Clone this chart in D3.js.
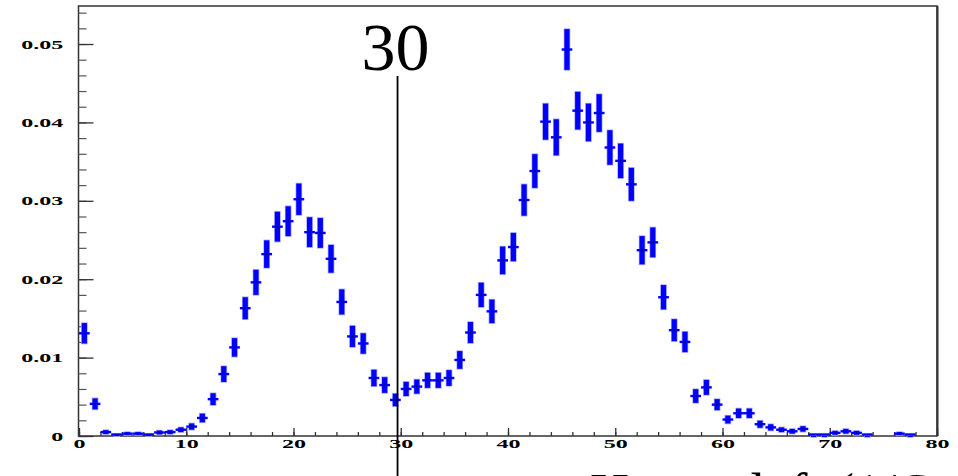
<!DOCTYPE html>
<html>
<head>
<meta charset="utf-8">
<script src="https://d3js.org/d3.v7.min.js"></script>
<style>
  body { margin: 0; background: #fff; }
  svg { display: block; }
</style>
</head>
<body>
<svg width="958" height="476"></svg>
<script>
// histogram bins 0..79, content per bin (null = empty bin, not drawn)
var binValues = [
  0.0131, 0.0041, 0.0005, 0.0001, 0.0003, 0.0003, 0.0001, 0.00045, 0.0005, 0.0008,
  0.0012, 0.0023, 0.0047, 0.0079, 0.0113, 0.0163, 0.0196, 0.0232, 0.0267, 0.0274,
  0.0302, 0.0260, 0.0259, 0.0226, 0.0171, 0.0127, 0.0118, 0.0074, 0.0065, 0.0046,
  0.0060, 0.0063, 0.0071, 0.0071, 0.0074, 0.0097, 0.0132, 0.0180, 0.0159, 0.0224,
  0.0241, 0.0301, 0.0338, 0.0401, 0.0381, 0.0493, 0.0415, 0.0400, 0.0412, 0.0368,
  0.0351, 0.0321, 0.0237, 0.0247, 0.0177, 0.0135, 0.0120, 0.0051, 0.0062, 0.0040,
  0.0021, 0.0029, 0.0029, 0.0015, 0.0011, 0.0008, 0.0006, 0.0009, 0, 0,
  0.0004, 0.0006, 0.0004, 0, null, null, 0.0003, 0, null, null
];

// error per bin
var binErrors = [
  0.0013, 0.0007, 0.00025, 0.0001, 0.0002, 0.0002, 0.0001, 0.00025, 0.00025, 0.0003,
  0.0004, 0.00055, 0.00075, 0.001, 0.00118, 0.0014, 0.0016, 0.00175, 0.0019, 0.0019,
  0.002, 0.0019, 0.0019, 0.00177, 0.0016, 0.00135, 0.0013, 0.00105, 0.001, 0.0008,
  0.0009, 0.0009, 0.00096, 0.00096, 0.001, 0.00113, 0.00134, 0.00155, 0.0015, 0.00176,
  0.0018, 0.002, 0.00215, 0.0023, 0.0023, 0.0026, 0.0024, 0.0024, 0.0024, 0.0022,
  0.0022, 0.0021, 0.0018, 0.0019, 0.00155, 0.0014, 0.0013, 0.00087, 0.00095, 0.0007,
  0.0005, 0.0006, 0.0006, 0.00045, 0.0004, 0.0003, 0.0003, 0.00035, 0, 0,
  0.00025, 0.0003, 0.00025, 0, null, null, 0.0002, 0, null, null
];

var xMajorTicks = [0, 10, 20, 30, 40, 50, 60, 70, 80];
var yMajorTicks = [0, 0.01, 0.02, 0.03, 0.04, 0.05];
var cutValue = 29.7;     // where the cut line sits on the axis
var cutLabel = "30";
var xTitle = "Hmass left (1/GeV)";

var svg = d3.select("svg");

var x = d3.scaleLinear().domain([0, 80]).range([79, 937]);
var y = d3.scaleLinear().domain([0, 0.05485]).range([436, 6]);

// build bin objects
var bins = binValues.map(function(v, i) {
  return {lo: i, hi: i + 1, c: i + 0.5, v: v, e: binErrors[i]};
}).filter(function(d) { return d.v !== null; });

// frame
svg.append("rect")
  .attr("x", x(0) - 0.5)
  .attr("y", y.range()[1])
  .attr("width", x(80) - x(0) + 0.5)
  .attr("height", y(0) - y.range()[1])
  .attr("fill", "none")
  .attr("stroke", "#333")
  .attr("stroke-width", 1.5);

svg.append("line")
  .attr("x1", x(80) + 0.5).attr("x2", x(80) + 0.5)
  .attr("y1", y.range()[1]).attr("y2", y(0))
  .attr("stroke", "#333").attr("stroke-width", 2);

var labelScale = "scale(1.85,1)";

// y axis, minor then major
var yMinor = d3.range(0, 0.0549, 0.002);
svg.append("g")
  .attr("transform", "translate(" + (x(0) - 0.5) + ",0)")
  .call(d3.axisLeft(y).tickValues(yMinor).tickSize(-8).tickFormat(""))
  .call(function(g) { g.select(".domain").remove(); })
  .selectAll("line").attr("stroke", "#555").attr("stroke-width", 1.2);

var yAxis = svg.append("g")
  .attr("transform", "translate(" + (x(0) - 0.5) + ",0)")
  .call(d3.axisLeft(y).tickValues(yMajorTicks).tickSize(-15).tickPadding(8.2)
    .tickFormat(function(d) { return d === 0 ? "0" : d3.format(".2f")(d); }));
yAxis.select(".domain").remove();
yAxis.selectAll("line").attr("stroke", "#333").attr("stroke-width", 1.3);
yAxis.selectAll("text")
  .attr("transform", labelScale)
  .style("font-family", "'Liberation Serif', 'Times New Roman', serif")
  .style("font-weight", "bold")
  .style("font-size", "13px")
  .attr("fill", "#000");

// x axis
var xMinor = d3.range(0, 81, 2);
svg.append("g")
  .attr("transform", "translate(0," + y(0) + ")")
  .call(d3.axisBottom(x).tickValues(xMinor).tickSize(-4).tickFormat(""))
  .call(function(g) { g.select(".domain").remove(); })
  .selectAll("line").attr("stroke", "#333").attr("stroke-width", 1.3);

var xAxis = svg.append("g")
  .attr("transform", "translate(0," + y(0) + ")")
  .call(d3.axisBottom(x).tickValues(xMajorTicks).tickSize(-8).tickPadding(3));
xAxis.select(".domain").remove();
xAxis.selectAll("line").attr("stroke", "#333").attr("stroke-width", 1.3);
xAxis.selectAll("text")
  .attr("transform", labelScale)
  .style("font-family", "'Liberation Serif', 'Times New Roman', serif")
  .style("font-weight", "bold")
  .style("font-size", "13px")
  .attr("fill", "#000");

// data points with error bars
var pts = svg.append("g").attr("class", "points");

// soft halo under the error bars
pts.selectAll("rect.halo")
  .data(bins)
  .enter()
  .append("rect")
  .attr("class", "halo")
  .attr("x", function(d) { return x(d.c) - 3.3; })
  .attr("width", 6.6)
  .attr("y", function(d) { return y(d.v + d.e) - 0.8; })
  .attr("height", function(d) { return Math.max(y(d.v - d.e) - y(d.v + d.e), 1) + 1.6; })
  .attr("fill", "#a8a8ff");

pts.selectAll("rect.err")
  .data(bins)
  .enter()
  .append("rect")
  .attr("class", "err")
  .attr("x", function(d) { return x(d.c) - 2.6; })
  .attr("width", 5.2)
  .attr("y", function(d) { return y(d.v + d.e); })
  .attr("height", function(d) { return Math.max(y(d.v - d.e) - y(d.v + d.e), 1); })
  .attr("fill", "#0000ff");

pts.selectAll("line.xerr")
  .data(bins)
  .enter()
  .append("line")
  .attr("class", "xerr")
  .attr("x1", function(d) { return x(d.lo); })
  .attr("x2", function(d) { return x(d.hi); })
  .attr("y1", function(d) { return Math.min(y(d.v), y(0) - 1.5); })
  .attr("y2", function(d) { return Math.min(y(d.v), y(0) - 1.5); })
  .attr("stroke", "#0000ff")
  .attr("stroke-width", 2.4);

pts.selectAll("rect.mark")
  .data(bins.filter(function(d) { return d.e > 0; }))
  .enter()
  .append("rect")
  .attr("class", "mark")
  .attr("x", function(d) { return x(d.c) - 0.8; })
  .attr("y", function(d) { return y(d.v) - 0.6; })
  .attr("width", 1.6)
  .attr("height", 1.2)
  .attr("fill", "#000044");

// cut line and its label
svg.append("line")
  .attr("x1", x(cutValue)).attr("x2", x(cutValue))
  .attr("y1", 76).attr("y2", 476)
  .attr("stroke", "#000")
  .attr("stroke-width", 1.8);

svg.append("text")
  .attr("x", x(cutValue) - 2)
  .attr("y", 70)
  .attr("text-anchor", "middle")
  .style("font-family", "'Liberation Serif', 'Times New Roman', serif")
  .style("font-size", "68px")
  .attr("fill", "#000")
  .text(cutLabel);

// axis title, mostly below the bottom of the window as in the original
svg.append("text")
  .attr("x", 590)
  .attr("y", 511)
  .style("font-family", "'Liberation Serif', 'Times New Roman', serif")
  .style("font-size", "54px")
  .attr("fill", "#000")
  .text(xTitle);
</script>
</body>
</html>
